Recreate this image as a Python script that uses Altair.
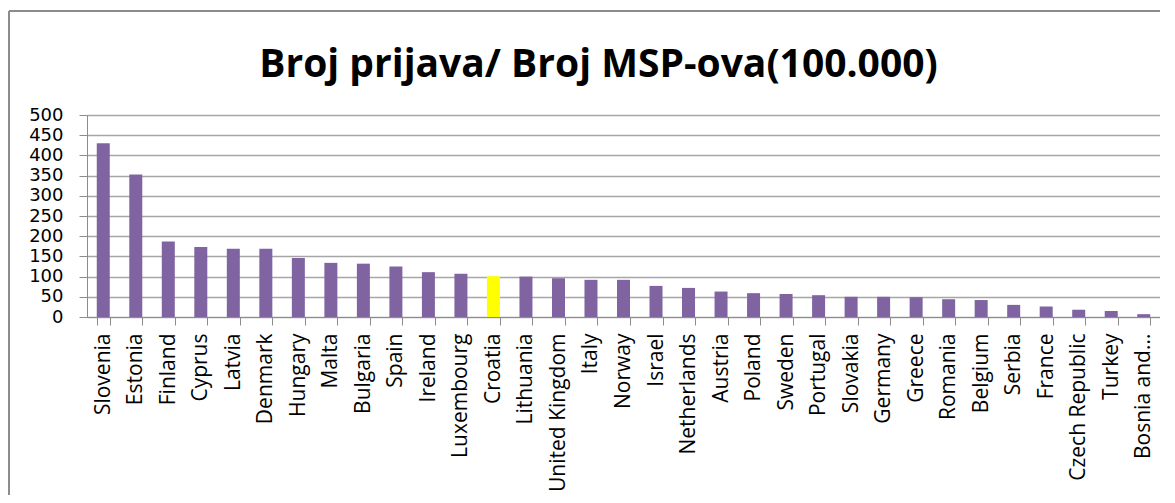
import altair as alt
import pandas as pd

countries = ["Slovenia", "Estonia", "Finland", "Cyprus", "Latvia", "Denmark", "Hungary",
             "Malta", "Bulgaria", "Spain", "Ireland", "Luxembourg", "Croatia", "Lithuania",
             "United Kingdom", "Italy", "Norway", "Israel", "Netherlands", "Austria", "Poland",
             "Sweden", "Portugal", "Slovakia", "Germany", "Greece", "Romania", "Belgium",
             "Serbia", "France", "Czech Republic", "Turkey", "Bosnia and Herzegovina"]
values = [430, 353, 187, 173, 169, 169, 146, 134, 132, 125, 111, 107, 101, 100,
          96, 92, 92, 77, 72, 63, 59, 57, 54, 50, 50, 49, 44, 42, 30, 26, 18, 15, 7]
highlight = "Croatia"

df = pd.DataFrame({"country": countries, "value": values})
df["hl"] = df["country"] == highlight

FONT = "Open Sans"
YFONT = "DejaVu Sans"
TITLE_FONT = "Open Sans"

bars = alt.Chart(df).mark_bar().encode(
    x=alt.X("country:N", sort=countries,
            scale=alt.Scale(paddingInner=0.6, paddingOuter=0.3),
            axis=alt.Axis(title=None, labelAngle=-90, labelAlign="right", labelBaseline="middle",
                          labelFontSize=21, labelFont=FONT, labelColor="#000000",
                          labelPadding=8, tickSize=8, tickColor="#8c8c8c", tickBand="extent",
                          domainColor="#8c8c8c", labelLimit=300,
                          labelExpr="datum.label == 'Bosnia and Herzegovina' ? 'Bosnia and...' : datum.label")),
    y=alt.Y("value:Q", scale=alt.Scale(domain=[0, 500], nice=False),
            axis=alt.Axis(title=None, values=list(range(0, 501, 50)), tickSize=8,
                          tickColor="#8c8c8c", domainColor="#8c8c8c", gridColor="#a6a6a6",
                          gridWidth=1.5, labelFontSize=18, labelFont=YFONT, labelColor="#000000",
                          labelPadding=16)),
    color=alt.Color("hl:N", scale=alt.Scale(domain=[False, True], range=["#8064A2", "#FFFF00"]),
                    legend=None),
)

frame_top = alt.Chart(df).mark_rule(color="#8c8c8c", strokeWidth=2, clip=False).encode(
    x=alt.value(-78), x2=alt.value(1100), y=alt.value(-104))
frame_left = alt.Chart(df).mark_rule(color="#8c8c8c", strokeWidth=2, clip=False).encode(
    x=alt.value(-78), y=alt.value(-104), y2=alt.value(400))

chart = alt.layer(bars, frame_top, frame_left).properties(
    width=1073, height=202,
    title=alt.TitleParams("Broj prijava/ Broj MSP-ova(100.000)", font=TITLE_FONT, fontSize=39,
                          fontWeight="bold", color="#000000", anchor="middle", dx=-25,
                          offset=0, dy=106, baseline="alphabetic"),
    autosize=alt.AutoSizeParams(type="none"),
    padding={"left": 79, "top": 107, "right": 0, "bottom": 178},
).configure_view(stroke=None).configure(background="white")

chart.save("out.html", embed_options={"renderer": "svg", "actions": False})
